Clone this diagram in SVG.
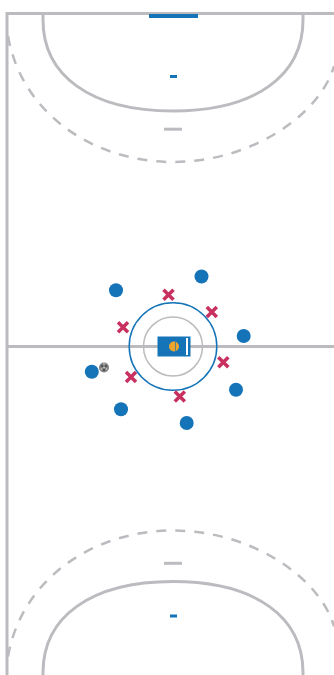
<svg xmlns="http://www.w3.org/2000/svg" width="334" height="675" viewBox="0 0 334 675">
<style>
.l{fill:none;stroke:#bcbcc0;stroke-width:3}
.thin{fill:none;stroke:#bcbcc0;stroke-width:1.500}
.d{fill:none;stroke:#bcbcc0;stroke-width:2.500;stroke-dasharray:10 9}
.p{fill:#1574b8}
.x{fill:none;stroke:#c8315f;stroke-width:3.500}
</style>
<defs>
<g id="half">
<path class="l" d="M43 13V20C43 75 90 111 173 111C256 111 303 75 303 20V13"/>
<path class="d" d="M8 36C22 115 95 162 173 162C251 162 320 115 334 66"/>
<rect x="164" y="127.700" width="18" height="3" fill="#bcbcc0"/>
<rect x="170" y="75" width="7" height="3" fill="#1574b8"/>
</g>
<path id="cross" class="x" d="M-5-5L5 5M5-5L-5 5"/>
</defs>
<g id="court">
<path class="l" d="M334 13.500H7V675"/>
<path class="l" d="M7 346.500H334"/>
<use href="#half"/>
<use href="#half" transform="matrix(1 0 0 -1 0 692.500)"/>
<rect x="149" y="14" width="49" height="4" fill="#1574b8"/>
</g>
<g id="circles">
<circle class="thin" cx="173" cy="346.500" r="29.500"/>
<circle cx="173" cy="346.500" r="43.800" fill="none" stroke="#1574b8" stroke-width="1.500"/>
</g>
<g id="center">
<rect x="157.500" y="336.500" width="33" height="20" class="p"/>
<rect x="186" y="338" width="2" height="17" fill="#fff"/>
<circle cx="174" cy="346.500" r="5" fill="#eea52c"/>
<path d="M175.500 342V351" stroke="#1574b8" stroke-width="0.700"/>
</g>
<g id="blue-players">
<circle class="p" cx="116" cy="290.300" r="7"/>
<circle class="p" cx="201.500" cy="276.500" r="7"/>
<circle class="p" cx="243.700" cy="336" r="7"/>
<circle class="p" cx="236" cy="389.700" r="7"/>
<circle class="p" cx="186.700" cy="423" r="7"/>
<circle class="p" cx="121" cy="409.200" r="7"/>
<circle class="p" cx="91.800" cy="371.800" r="7"/>
</g>
<g id="red-players">
<use href="#cross" x="168.500" y="294.800"/>
<use href="#cross" x="211.800" y="312"/>
<use href="#cross" x="123" y="327.200"/>
<use href="#cross" x="223.300" y="362.300"/>
<use href="#cross" x="131" y="377"/>
<use href="#cross" x="179.800" y="396.500"/>
</g>
<g id="ball">
<circle cx="104" cy="367.500" r="5" fill="#808082"/>
<circle cx="102" cy="366" r="1" fill="#444"/>
<circle cx="106" cy="366" r="1" fill="#444"/>
<circle cx="104" cy="370" r="1" fill="#444"/>
<circle cx="104" cy="364" r="0.800" fill="#ccc"/>
<circle cx="101.500" cy="369" r="0.800" fill="#ccc"/>
<circle cx="106.500" cy="369" r="0.800" fill="#ccc"/>
<circle cx="104" cy="367.500" r="0.800" fill="#ccc"/>
</g>
</svg>
